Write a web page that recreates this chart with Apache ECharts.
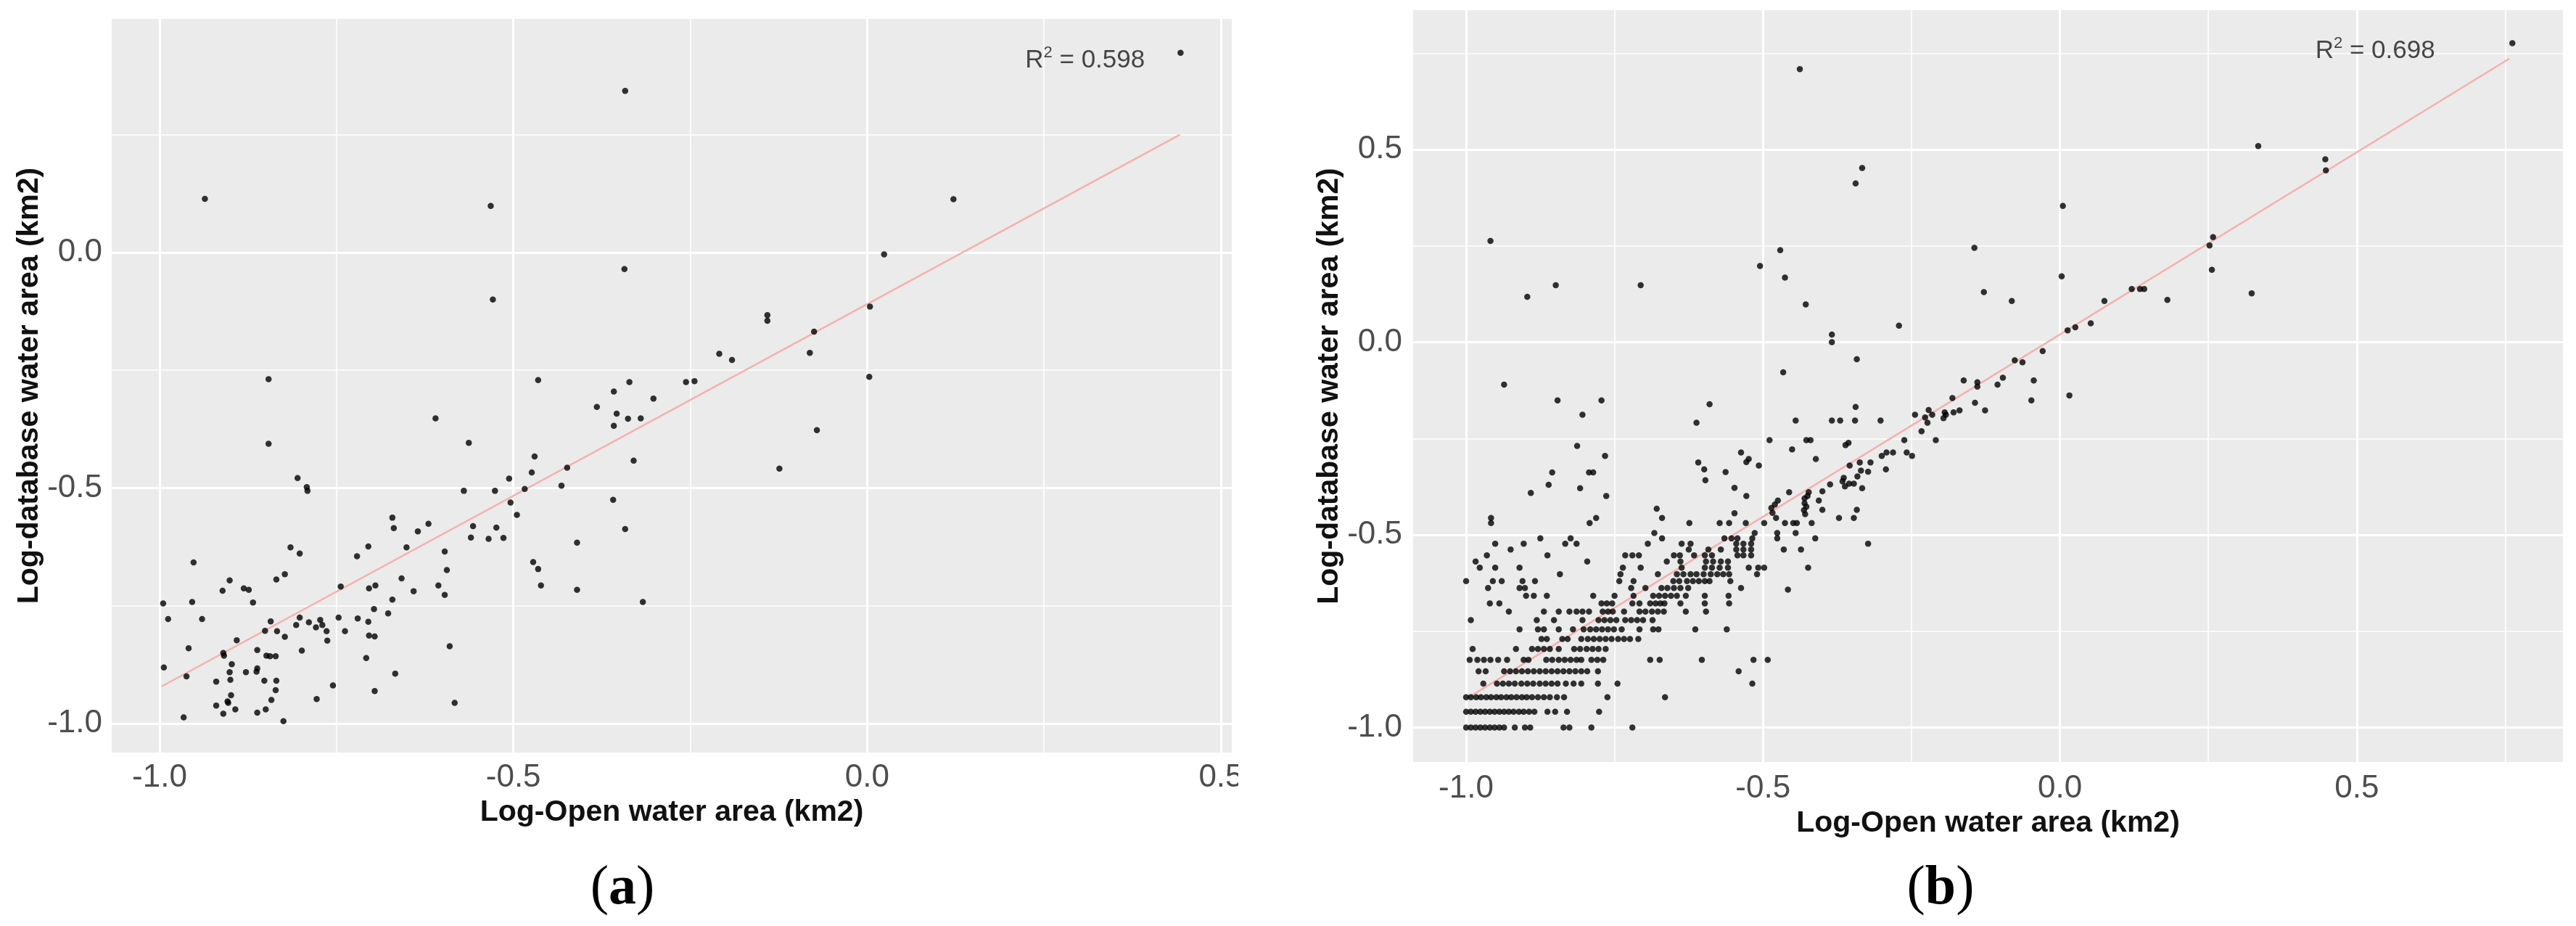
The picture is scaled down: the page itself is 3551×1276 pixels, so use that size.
<!DOCTYPE html>
<html>
<head>
<meta charset="utf-8">
<script src="https://cdn.jsdelivr.net/npm/echarts@6/dist/echarts.min.js"></script>
<style>
  html, body { margin: 0; padding: 0; background: #fff; }
  #chart { width: 3551px; height: 1276px; }
</style>
</head>
<body>
<div id="chart"></div>
<script>
// ---- panel (a): points ----
var pointsA = [
  [-0.342,0.343],[-0.936,0.114],[-0.532,0.099],[-0.343,-0.035],[-0.529,-0.100],[-0.846,-0.269],[-0.465,-0.271],
  [-0.336,-0.275],[-0.302,-0.310],[-0.382,-0.328],[-0.358,-0.295],[-0.354,-0.342],[-0.358,-0.368],[-0.338,-0.353],
  [-0.320,-0.352],[-0.610,-0.352],[-0.330,-0.442],[-0.359,-0.525],[-0.342,-0.587],[-0.317,-0.742],[-0.410,-0.616],
  [-0.410,-0.716],[-0.424,-0.457],[-0.432,-0.495],[-0.470,-0.433],[-0.474,-0.467],[-0.484,-0.502],[-0.506,-0.480],
  [-0.504,-0.531],[-0.495,-0.557],[-0.526,-0.506],[-0.524,-0.584],[-0.535,-0.608],[-0.514,-0.606],[-0.563,-0.404],
  [-0.570,-0.506],[-0.557,-0.581],[-0.560,-0.605],[-0.472,-0.657],[-0.465,-0.672],[-0.461,-0.707],[-0.597,-0.635],
  [-0.594,-0.674],[-0.606,-0.707],[-0.597,-0.727],[-0.590,-0.836],[-0.583,-0.956],[-0.620,-0.576],[-0.635,-0.592],
  [-0.651,-0.626],[-0.658,-0.692],[-0.641,-0.719],[-0.671,-0.563],[-0.669,-0.585],[-0.671,-0.737],[-0.677,-0.766],
  [-0.667,-0.894],[-0.705,-0.624],[-0.721,-0.645],[-0.704,-0.713],[-0.695,-0.707],[-0.697,-0.757],[-0.720,-0.777],
  [-0.705,-0.784],[-0.704,-0.813],[-0.696,-0.815],[-0.708,-0.861],[-0.696,-0.931],[-0.744,-0.709],[-0.747,-0.775],
  [-0.738,-0.804],[-0.755,-0.919],[-0.778,-0.948],[-0.773,-0.780],[-0.770,-0.791],[-0.764,-0.804],[-0.763,-0.824],
  [-0.789,-0.785],[-0.779,-0.796],[-0.802,-0.775],[-0.807,-0.791],[-0.799,-0.845],[-0.792,-0.498],[-0.791,-0.506],
  [-0.805,-0.479],[-0.815,-0.626],[-0.802,-0.639],[-0.823,-0.683],[-0.835,-0.694],[-0.846,-0.406],[-0.823,-0.816],
  [-0.834,-0.804],[-0.843,-0.783],[-0.851,-0.803],[-0.836,-0.857],[-0.844,-0.857],[-0.849,-0.856],[-0.835,-0.909],
  [-0.836,-0.929],[-0.842,-0.950],[-0.850,-0.970],[-0.825,-0.995],[-0.862,-0.977],[-0.862,-0.883],[-0.863,-0.890],
  [-0.862,-0.844],[-0.852,-0.909],[-0.868,-0.743],[-0.874,-0.716],[-0.881,-0.713],[-0.878,-0.891],[-0.891,-0.823],
  [-0.893,-0.970],[-0.901,-0.696],[-0.911,-0.718],[-0.910,-0.850],[-0.909,-0.856],[-0.898,-0.874],[-0.901,-0.891],
  [-0.900,-0.907],[-0.920,-0.911],[-0.899,-0.940],[-0.904,-0.953],[-0.920,-0.962],[-0.910,-0.979],[-0.903,-0.956],
  [-0.940,-0.778],[-0.954,-0.742],[-0.952,-0.658],[-0.959,-0.840],[-0.962,-0.900],[-0.966,-0.987],[-0.995,-0.745],
  [-0.988,-0.778],[-0.994,-0.881],
  [0.443,0.424],[0.122,0.113],[0.024,-0.004],[0.004,-0.115],[0.003,-0.264],[-0.141,-0.133],[-0.141,-0.145],
  [-0.075,-0.168],[-0.081,-0.213],[-0.071,-0.377],[-0.124,-0.459],[-0.209,-0.215],[-0.191,-0.228],[-0.256,-0.275],
  [-0.244,-0.273]
];
var fitA = [[-0.997,-0.921],[0.442,0.250]];
var r2TextA = '0.598';
var r2PosA = [0.308, 0.408];

// ---- panel (b): database areas sit on rows (0.01 km2 steps), x values per row ----
var levelsB = [-1.0,-0.959,-0.921,-0.886,-0.854,-0.824,-0.796,-0.770,-0.745,-0.721,-0.699,-0.678,-0.658,
  -0.638,-0.620,-0.602,-0.585,-0.569,-0.553,-0.538,-0.523,-0.509,-0.495,-0.469,-0.456,-0.444,-0.432];
var rowXsB = [
  [-1.0,-0.992,-0.984,-0.976,-0.968,-0.96,-0.952,-0.944,-0.936,-0.918,-0.901,-0.892,-0.836,-0.826,-0.789,-0.72],
  [-1.0,-0.992,-0.984,-0.976,-0.968,-0.96,-0.952,-0.944,-0.936,-0.928,-0.92,-0.911,-0.903,-0.894,-0.885,-0.863,-0.85,-0.83,-0.776],
  [-1.0,-0.992,-0.983,-0.975,-0.966,-0.958,-0.949,-0.941,-0.932,-0.924,-0.915,-0.906,-0.898,-0.889,-0.879,-0.869,-0.859,-0.847,-0.835,-0.762,-0.665],
  [-0.971,-0.948,-0.938,-0.928,-0.918,-0.907,-0.897,-0.887,-0.876,-0.866,-0.856,-0.846,-0.832,-0.819,-0.806,-0.778,-0.745,-0.518],
  [-0.979,-0.967,-0.936,-0.926,-0.916,-0.906,-0.896,-0.886,-0.876,-0.866,-0.856,-0.846,-0.836,-0.826,-0.816,-0.806,-0.796,-0.778,-0.541],
  [-0.994,-0.981,-0.970,-0.959,-0.946,-0.931,-0.903,-0.895,-0.865,-0.855,-0.844,-0.834,-0.824,-0.814,-0.806,-0.789,-0.779,-0.769,-0.690,-0.674,-0.603,-0.516,-0.492],
  [-0.989,-0.916,-0.889,-0.879,-0.869,-0.859,-0.844,-0.818,-0.808,-0.797,-0.787,-0.777,-0.765],
  [-0.873,-0.864,-0.838,-0.829,-0.806,-0.795,-0.785,-0.775,-0.765,-0.755,-0.744,-0.734,-0.724,-0.710],
  [-0.910,-0.879,-0.869,-0.844,-0.820,-0.802,-0.791,-0.781,-0.771,-0.761,-0.751,-0.738,-0.708,-0.685,-0.676,-0.614,-0.561],
  [-0.992,-0.881,-0.852,-0.804,-0.777,-0.767,-0.757,-0.747,-0.732,-0.722,-0.712,-0.702,-0.686],
  [-0.928,-0.869,-0.844,-0.826,-0.814,-0.804,-0.793,-0.770,-0.761,-0.753,-0.734,-0.708,-0.698,-0.687,-0.677,-0.667,-0.630,-0.596],
  [-0.960,-0.944,-0.772,-0.763,-0.754,-0.720,-0.708,-0.690,-0.681,-0.673,-0.666,-0.639,-0.598,-0.557],
  [-0.899,-0.886,-0.864,-0.786,-0.750,-0.718,-0.685,-0.675,-0.665,-0.655,-0.645,-0.630,-0.598,-0.558],
  [-0.963,-0.910,-0.901,-0.722,-0.698,-0.671,-0.661,-0.650,-0.639,-0.626,-0.537],
  [-1.0,-0.955,-0.940,-0.905,-0.884,-0.742,-0.718,-0.651,-0.641,-0.628,-0.618,-0.608,-0.598,-0.590,-0.555],
  [-0.842,-0.740,-0.677,-0.645,-0.634,-0.622,-0.612,-0.600,-0.588,-0.577,-0.567,-0.557,-0.510],
  [-0.977,-0.951,-0.910,-0.736,-0.706,-0.637,-0.598,-0.586,-0.573,-0.559,-0.524,-0.508,-0.498,-0.424],
  [-0.984,-0.796,-0.662,-0.639,-0.596,-0.584,-0.571,-0.559],
  [-0.965,-0.863,-0.732,-0.720,-0.709,-0.650,-0.640,-0.616,-0.598,-0.586,-0.543,-0.533,-0.520],
  [-0.925,-0.625,-0.592,-0.571,-0.545,-0.533,-0.520,-0.465,-0.436],
  [-0.951,-0.903,-0.833,-0.814,-0.694,-0.637,-0.622,-0.545,-0.533,-0.520,-0.323],
  [-0.875,-0.824,-0.670,-0.565,-0.553,-0.543,-0.518,-0.476,-0.412],
  [-0.683,-0.514,-0.476,-0.445],
  [-0.958,-0.792,-0.624,-0.573,-0.557,-0.529,-0.498,-0.463,-0.449,-0.443,-0.418],
  [-0.958,-0.781,-0.670,-0.478,-0.372,-0.347],
  [-0.548],
  [-0.679]
];
// the scattered points above the rows
var scatterB = [
  [-0.438,0.709],[-0.333,0.452],[-0.344,0.412],[-0.959,0.263],[-0.471,0.239],[-0.505,0.198],[-0.463,0.168],
  [-0.849,0.148],[-0.706,0.148],[-0.897,0.118],[-0.428,0.098],[-0.384,0.020],[-0.384,0.0],[-0.466,-0.078],
  [-0.936,-0.110],[-0.846,-0.151],[-0.772,-0.151],[-0.804,-0.188],[-0.813,-0.269],[-0.766,-0.295],[-0.855,-0.338],
  [-0.793,-0.338],[-0.786,-0.338],[-0.861,-0.370],[-0.891,-0.391],[-0.808,-0.379],[-0.764,-0.399],
  [-0.590,-0.161],[-0.612,-0.209],[-0.445,-0.203],[-0.384,-0.203],[-0.370,-0.203],[-0.345,-0.203],[-0.344,-0.168],
  [-0.302,-0.203],[-0.489,-0.254],[-0.427,-0.254],[-0.420,-0.254],[-0.451,-0.278],[-0.361,-0.267],[-0.356,-0.261],
  [-0.537,-0.286],[-0.528,-0.311],[-0.524,-0.303],[-0.507,-0.320],[-0.411,-0.303],[-0.609,-0.312],[-0.599,-0.330],
  [-0.597,-0.358],[-0.563,-0.337],[-0.548,-0.378],[-0.528,-0.399],[-0.300,-0.295],[-0.292,-0.286],[-0.281,-0.286],
  [-0.319,-0.312],[-0.337,-0.312],[-0.354,-0.320],[-0.293,-0.330],[-0.335,-0.333],[-0.323,-0.336],[-0.341,-0.348],
  [-0.364,-0.352],[-0.366,-0.361],[-0.362,-0.374],[-0.355,-0.367],[-0.347,-0.367],[-0.387,-0.369],[-0.333,-0.379],
  [-0.400,-0.387],[-0.456,-0.389],[-0.423,-0.389],[-0.425,-0.399],[-0.430,-0.405],
  [-0.475,-0.411],[-0.480,-0.421],[-0.486,-0.430],[-0.484,-0.443],[-0.430,-0.418],[-0.427,-0.427],[-0.431,-0.436],
  [-0.429,-0.446],[-0.406,-0.411],[-0.400,-0.435],[-0.342,-0.435],[-0.458,-0.642],
  [-0.128,0.130],[-0.081,0.107],[-0.271,0.043],[-0.342,-0.044],[0.075,0.107],[0.013,0.031],[0.026,0.039],
  [0.052,0.049],[-0.029,-0.023],[-0.076,-0.047],[-0.063,-0.052],[-0.162,-0.099],[-0.139,-0.104],[-0.139,-0.115],
  [-0.105,-0.110],[-0.096,-0.092],[-0.044,-0.099],[-0.048,-0.151],[0.016,-0.138],[-0.143,-0.157],[-0.126,-0.177],
  [-0.181,-0.145],[-0.221,-0.176],[-0.227,-0.195],[-0.215,-0.188],[-0.223,-0.209],[-0.194,-0.182],[-0.192,-0.188],
  [-0.196,-0.197],[-0.179,-0.182],[-0.169,-0.177],[-0.244,-0.188],[-0.233,-0.231],[-0.209,-0.254],[-0.262,-0.254],
  [-0.258,-0.286],[-0.249,-0.295],
  [0.762,0.776],[0.334,0.509],[0.447,0.475],[0.448,0.446],[0.005,0.354],[-0.144,0.245],[0.003,0.171],
  [0.258,0.273],[0.252,0.251],[0.256,0.188],[0.323,0.127],[0.181,0.110],[0.121,0.138],[0.135,0.138],[0.142,0.138]
];
var fitB = [[-0.996,-0.922],[0.757,0.736]];
var r2TextB = '0.698';
var r2PosB = [0.531, 0.756];

// axes
var majorTicks = [-1.0, -0.5, 0.0, 0.5];
var minorA_x = [-0.75, -0.25, 0.25];
var minorA_y = [-0.75, -0.25, 0.25];
var majorA_y = [-1.0, -0.5, 0.0];
var minorB = [-0.75, -0.25, 0.25, 0.75];
var xNameText = 'Log-Open water area (km2)';
var yNameText = 'Log-database water area (km2)';

var FONT = '"Liberation Sans", Arial, Helvetica, sans-serif';

var pointsB = [];
for (var i = 0; i < levelsB.length; i++) {
  for (var j = 0; j < rowXsB[i].length; j++) pointsB.push([rowXsB[i][j], levelsB[i]]);
}
pointsB = pointsB.concat(scatterB);

function makeAxis(gridIndex, min, max, ticks, name, gap, margin) {
  return {
    type: 'value', gridIndex: gridIndex, min: min, max: max,
    splitLine: { show: false },
    axisLine: { show: false },
    axisTick: { show: true, length: 7, customValues: ticks, lineStyle: { color: '#333', width: 2 } },
    axisLabel: {
      customValues: ticks, margin: margin, fontSize: 44, color: '#4D4D4D', fontFamily: FONT,
      formatter: function (v) { return v.toFixed(1); }
    },
    name: name, nameLocation: 'middle', nameGap: gap,
    nameTextStyle: { fontSize: 41, fontWeight: 'bold', color: '#111', fontFamily: FONT }
  };
}

// white panel grid lines, kept under the points
function gridSeries(idx, majX, minX, majY, minY) {
  var d = [];
  majX.forEach(function (v) { d.push({ xAxis: v, lineStyle: { width: 3 } }); });
  minX.forEach(function (v) { d.push({ xAxis: v, lineStyle: { width: 1.6 } }); });
  majY.forEach(function (v) { d.push({ yAxis: v, lineStyle: { width: 3 } }); });
  minY.forEach(function (v) { d.push({ yAxis: v, lineStyle: { width: 1.6 } }); });
  return {
    type: 'line', xAxisIndex: idx, yAxisIndex: idx, data: [], z: 1, silent: true,
    markLine: {
      z: 1, silent: true, symbol: ['none', 'none'], animation: false,
      label: { show: false },
      lineStyle: { color: '#FFFFFF', type: 'solid' },
      data: d
    }
  };
}

function r2Series(idx, pos, txt) {
  return {
    type: 'scatter', xAxisIndex: idx, yAxisIndex: idx, data: [pos], symbolSize: 1, z: 5, silent: true,
    itemStyle: { color: 'rgba(0,0,0,0)' },
    label: {
      show: true, position: 'inside',
      formatter: '{r|R}{s|2}{r| = ' + txt + '}',
      rich: {
        r: { fontSize: 35, color: '#1a1a1a', fontFamily: FONT },
        s: { fontSize: 22, color: '#1a1a1a', fontFamily: FONT, padding: [0, 0, 20, 0] }
      }
    }
  };
}

var option = {
  backgroundColor: '#ffffff',
  animation: false,
  textStyle: { fontFamily: FONT },
  grid: [
    { left: 154, top: 26, width: 1544, height: 1011, show: true, backgroundColor: '#EBEBEB', borderWidth: 0 },
    { left: 1948, top: 14, width: 1585, height: 1036, show: true, backgroundColor: '#EBEBEB', borderWidth: 0 }
  ],
  xAxis: [
    makeAxis(0, -1.0677, 0.5154, majorTicks, xNameText, 59, 13),
    makeAxis(1, -1.0892, 0.8472, majorTicks, xNameText, 58, 15)
  ],
  yAxis: [
    makeAxis(0, -1.0616, 0.496, majorA_y, yNameText, 92, 13),
    makeAxis(1, -1.0893, 0.8618, majorTicks, yNameText, 93, 15)
  ],
  series: [
    gridSeries(0, majorTicks, minorA_x, majorA_y, minorA_y),
    gridSeries(1, majorTicks, minorB, majorTicks, minorB),
    {
      type: 'line', xAxisIndex: 0, yAxisIndex: 0, data: fitA, showSymbol: false, z: 2, silent: true,
      lineStyle: { color: '#F5B0AA', width: 2.5 }
    },
    {
      type: 'line', xAxisIndex: 1, yAxisIndex: 1, data: fitB, showSymbol: false, z: 2, silent: true,
      lineStyle: { color: '#F5B0AA', width: 2.5 }
    },
    {
      type: 'scatter', xAxisIndex: 0, yAxisIndex: 0, data: pointsA, symbolSize: 8.5, z: 3,
      itemStyle: { color: '#000000' }
    },
    {
      type: 'scatter', xAxisIndex: 1, yAxisIndex: 1, data: pointsB, symbolSize: 8.5, z: 3,
      itemStyle: { color: '#000000' }
    },
    r2Series(0, r2PosA, r2TextA),
    r2Series(1, r2PosB, r2TextB)
  ],
  graphic: [
    { type: 'rect', z: 100, shape: { x: 1707, y: 1040, width: 90, height: 80 }, style: { fill: '#ffffff' } },
    {
      type: 'text', z: 100, x: 858, y: 1225,
      style: {
        text: '{p|(}{b|a}{p|)}', align: 'center', verticalAlign: 'middle',
        textAlign: 'center', textVerticalAlign: 'middle',
        rich: {
          p: { fontSize: 76, fontFamily: '"Liberation Serif", "Times New Roman", serif', fill: '#000' },
          b: { fontSize: 76, fontWeight: 'bold', fontFamily: '"Liberation Serif", "Times New Roman", serif', fill: '#000' }
        }
      }
    },
    {
      type: 'text', z: 100, x: 2675, y: 1225,
      style: {
        text: '{p|(}{b|b}{p|)}', align: 'center', verticalAlign: 'middle',
        textAlign: 'center', textVerticalAlign: 'middle',
        rich: {
          p: { fontSize: 76, fontFamily: '"Liberation Serif", "Times New Roman", serif', fill: '#000' },
          b: { fontSize: 76, fontWeight: 'bold', fontFamily: '"Liberation Serif", "Times New Roman", serif', fill: '#000' }
        }
      }
    }
  ]
};

var chart = echarts.init(document.getElementById('chart'), null, { renderer: 'canvas' });
chart.setOption(option);
</script>
</body>
</html>
